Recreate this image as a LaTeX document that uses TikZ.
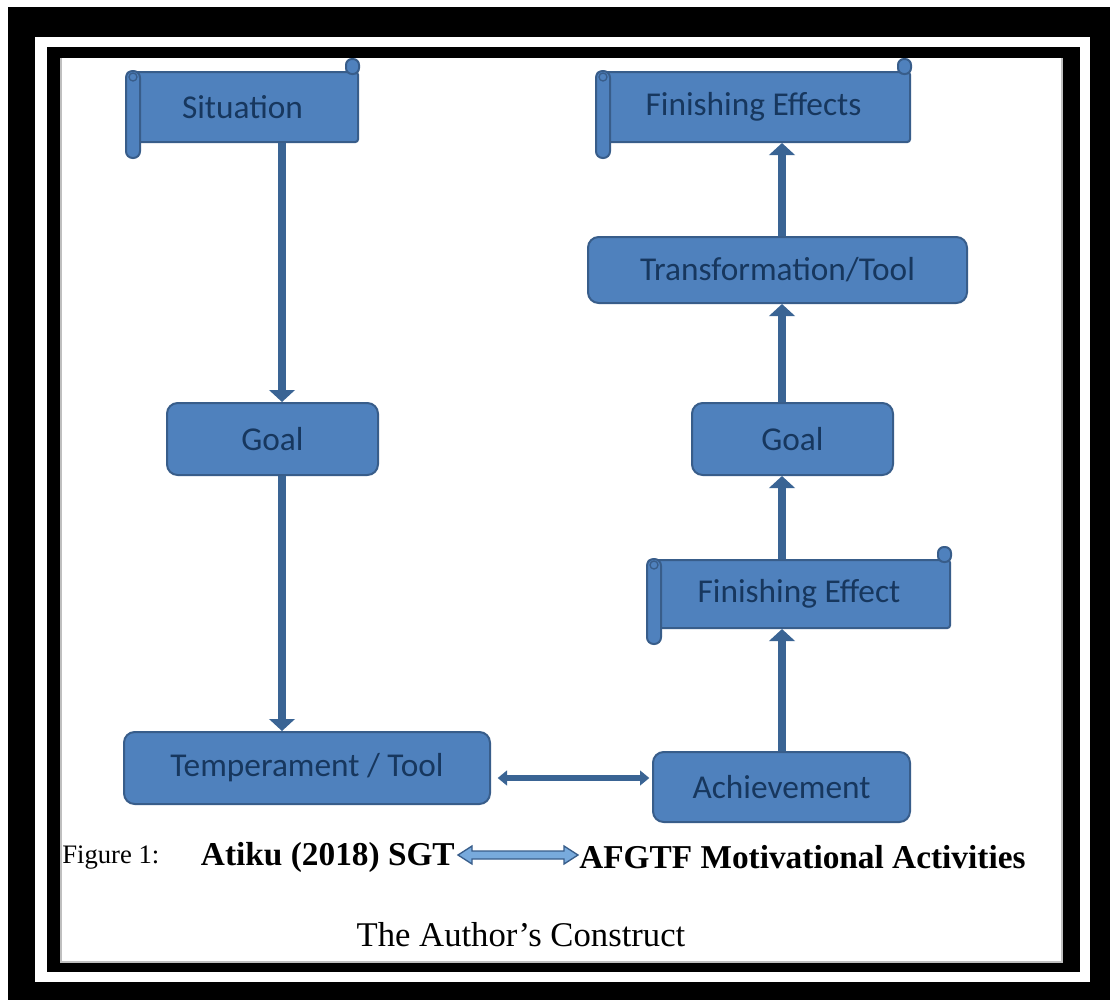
\documentclass[tikz,border=0pt]{standalone}
\usepackage{fontspec}
\setmainfont{Liberation Serif}
\newfontfamily\boxfont{Carlito}
\usetikzlibrary{arrows.meta,calc}

\definecolor{boxblue}{RGB}{79,129,189}
\definecolor{boxedge}{RGB}{56,93,138}
\definecolor{boxtext}{RGB}{23,55,94}
\definecolor{linkblue}{RGB}{58,100,148}
\definecolor{capblue}{RGB}{120,170,220}

\newcommand{\px}{0.75pt}

\tikzset{
  stage/.style={draw=boxedge, line width=1.5pt, fill=boxblue, rounded corners=8pt,
    text=boxtext, font=\boxfont\fontsize{25}{30}\selectfont, inner sep=0pt},
  scrollbody/.style={stage, rounded corners=2pt},
  roll/.style={draw=boxedge, line width=1.5pt, fill=boxblue},
  link/.style={draw=linkblue, line width=6.5pt, -{Triangle[width=19pt,length=9pt]}},
  biarrow/.style={draw=linkblue, line width=4pt,
    {Triangle[width=11pt,length=7pt]}-{Triangle[width=11pt,length=7pt]},
    shorten <=5pt, shorten >=2pt},
  caption/.style={inner sep=0pt, text=black}
}

\begin{document}
\begin{tikzpicture}[x=0.75pt,y=-0.75pt]
    \useasboundingbox (0,0) rectangle (1110,1000);
    % frame
    \fill[white] (0,0) rectangle (1110,1000);
    \fill[black] (8,7) rectangle (1110,1000);
    \fill[white] (35,37) rectangle (1090,982);
    \fill[black] (47,47) rectangle (1080,972);
    \fill[white] (60,58) rectangle (1063,963);
    \draw[gray!50, line width=2pt] (61,58) -- (61,962) -- (1062,962) -- (1062,58);

    % left column
    \node[scrollbody, minimum width=231*\px, minimum height=70*\px] (sit) at (242.5,107) {Situation};
    \node[stage, minimum width=211*\px, minimum height=72*\px] (goalL) at (272.5,439) {Goal};
    \node[stage, minimum width=366*\px, minimum height=72*\px] (temp) at (307,768) {Temperament / Tool};

    % right column
    \node[scrollbody, minimum width=313*\px, minimum height=70*\px] (fin) at (753.5,107) {Finishing Effects};
    \node[stage, minimum width=379*\px, minimum height=66*\px] (trans) at (777.5,270) {Transformation/Tool};
    \node[stage, minimum width=201*\px, minimum height=72*\px] (goalR) at (792.5,439) {Goal};
    \node[scrollbody, minimum width=302*\px, minimum height=68*\px] (finone) at (799,594) {Finishing Effect};
    \node[stage, minimum width=257*\px, minimum height=70*\px] (ach) at (781.5,787) {Achievement};

    % scroll rolls
    \foreach \s in {sit,fin,finone} {
        \draw[roll, rounded corners=5pt] (\s.north west) rectangle ($(\s.south west)+(14,15)$);
        \draw[roll, rounded corners=4.5pt] ($(\s.north east)+(-13,-12)$) rectangle ($(\s.north east)+(0,3)$);
        \draw[boxedge, line width=1pt] ($(\s.north west)+(7,6)$) circle (3pt);
    }

    % connectors
    \coordinate (colL) at (282,0);
    \coordinate (colR) at (782,0);
    \coordinate (rowB) at (0,778);
    \draw[link] (sit.south -| colL) -- (goalL.north -| colL);
    \draw[link] (goalL.south -| colL) -- (temp.north -| colL);
    \draw[link] (ach.north -| colR) -- (finone.south -| colR);
    \draw[link] (finone.north -| colR) -- (goalR.south -| colR);
    \draw[link] (goalR.north -| colR) -- (trans.south -| colR);
    \draw[link] (trans.north -| colR) -- (fin.south -| colR);
    \draw[biarrow] (temp.east |- rowB) -- (ach.west |- rowB);

    % caption
    \node[caption, anchor=west, font=\fontsize{20}{24}\selectfont] (figno) at (62,858) {Figure 1:};
    \node[caption, anchor=east, font=\bfseries\fontsize{25}{30}\selectfont] (sgt) at (455,857) {Atiku (2018) SGT};
    \node[caption, anchor=west, font=\bfseries\fontsize{25}{30}\selectfont] (afgtf) at (579,857) {AFGTF Motivational Activities};
    \filldraw[fill=capblue, draw=boxedge, line width=1pt]
        ($(sgt.east)+(3,-2)$) -- ++(14,-9) -- ++(0,5) -- ($(afgtf.west)+(-15,-6)$)
        -- ++(0,-5) -- ++(14,9) -- ++(-14,9) -- ++(0,-5) -- ($(sgt.east)+(17,2)$)
        -- ++(0,5) -- cycle;
    \node[caption, font=\fontsize{26}{30}\selectfont] (author) at (521,935) {The Author's Construct};
\end{tikzpicture}
\end{document}
